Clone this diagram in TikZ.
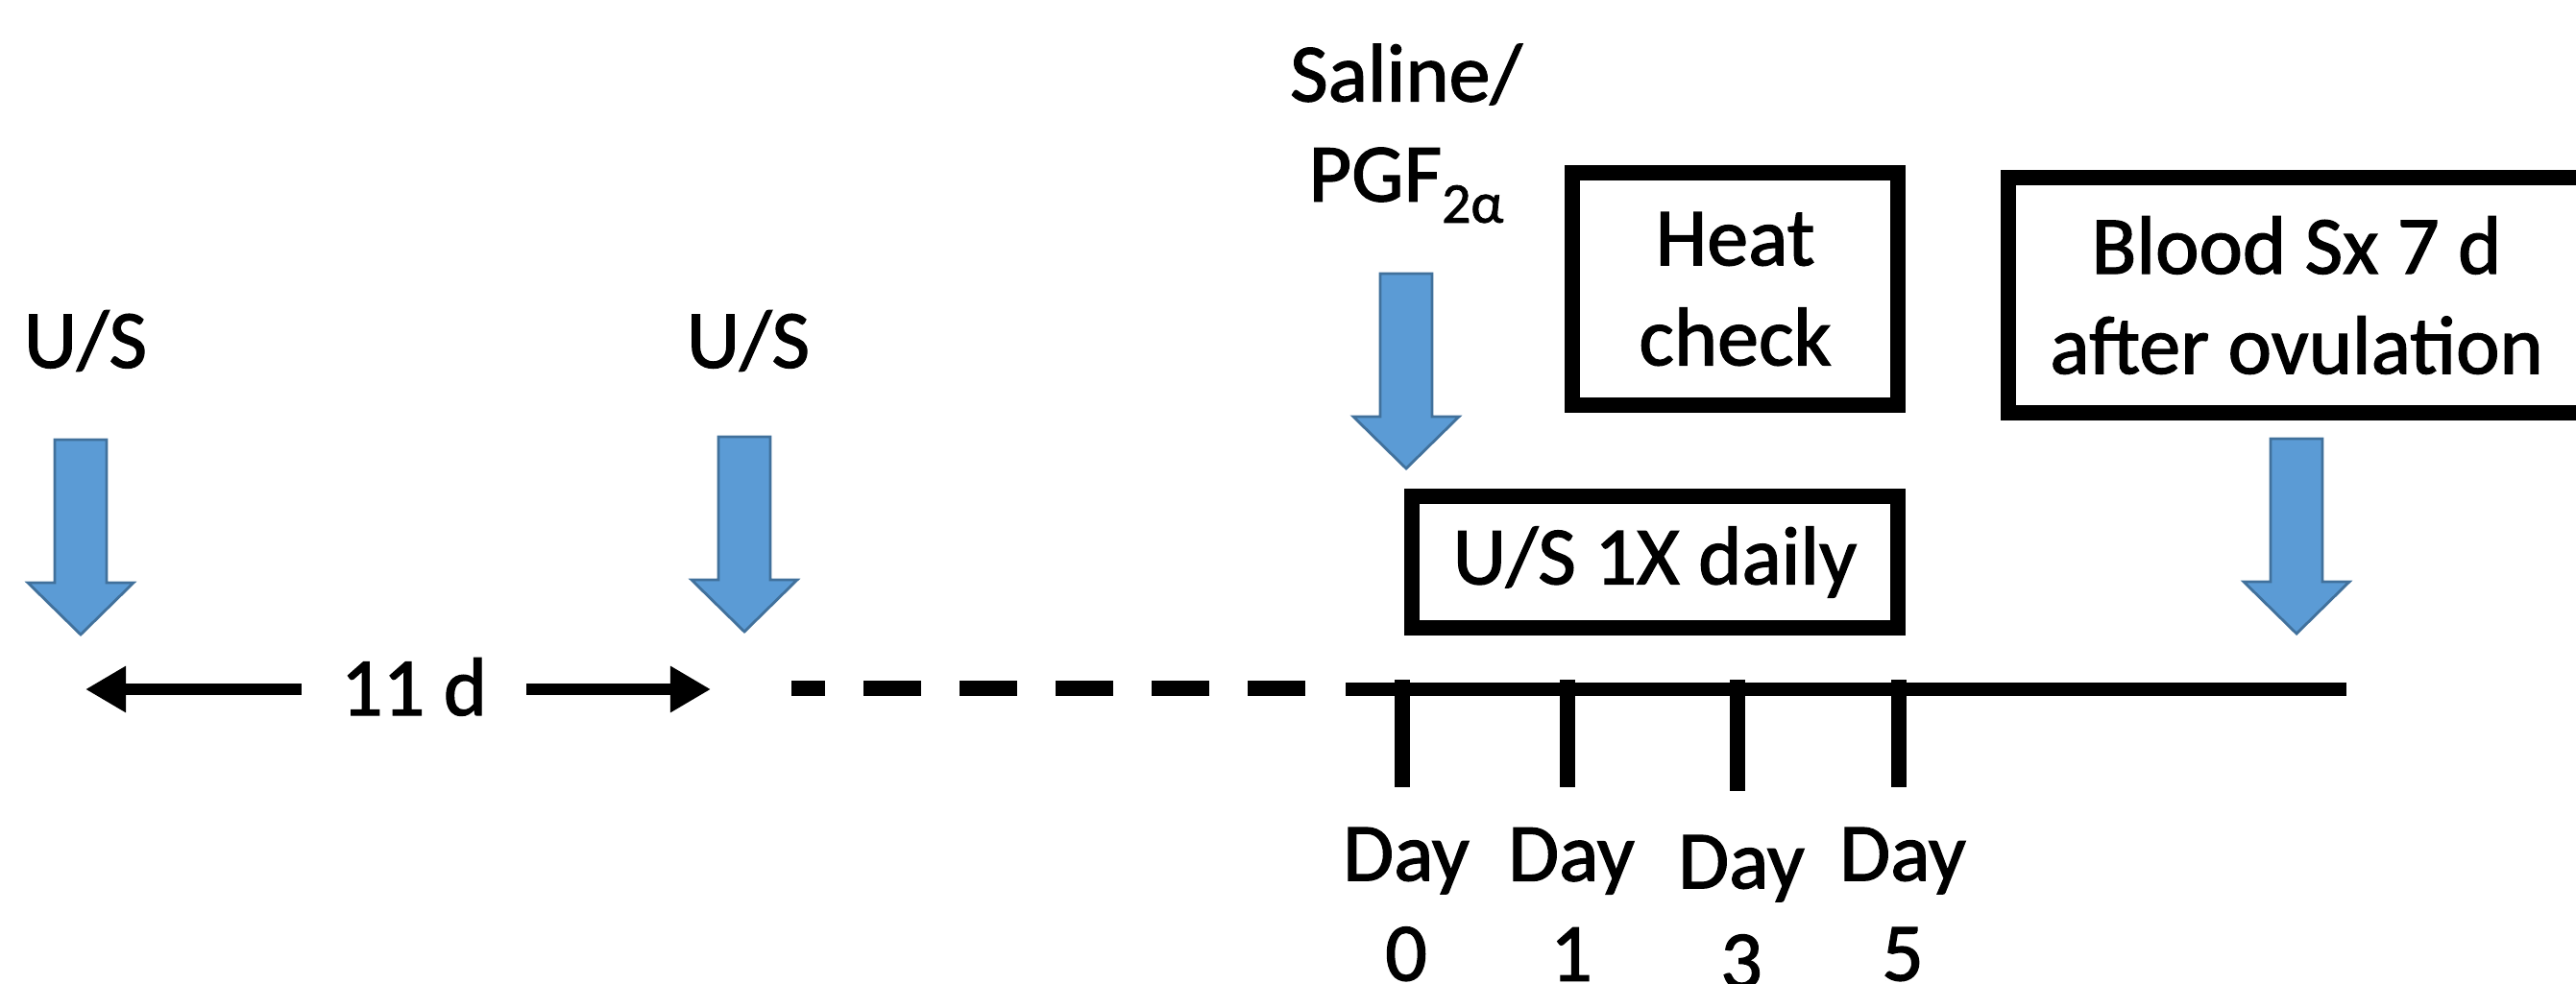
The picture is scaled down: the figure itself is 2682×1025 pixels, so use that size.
\documentclass[tikz,border=0pt]{standalone}
\usepackage{fontspec}
\setmainfont{Carlito}[FakeBold=1.5]
\usepackage{tikz}
\usetikzlibrary{arrows.meta, positioning}
\definecolor{arrowfill}{RGB}{91,155,213}
\definecolor{arrowedge}{RGB}{65,113,156}

\begin{document}
\begin{tikzpicture}[x=0.01cm, y=-0.01cm,
    lbl/.style={font=\fontsize{24.5}{29.6}\selectfont, inner sep=0pt, align=center},
    framebox/.style={lbl, draw, line width=4.6pt},
    dimarrow/.style={-{Triangle[length=12pt,width=13pt]}, line width=3.6pt},
    pics/bluedown/.style={code={
        \filldraw[fill=arrowfill, draw=arrowedge, line width=0.8pt]
            (-27,0) -- (27,0) -- (27,149) -- (55,149) -- (0,203) -- (-55,149) -- (-27,149) -- cycle;
    }}]
    \path[use as bounding box, clip] (0,0) rectangle (2682,1025);

    % first and second U/S
    \node[lbl, anchor=base] (us1) at (89,383) {U/S};
    \pic at (84,458) {bluedown};
    \node[lbl, anchor=base] (us2) at (779,383) {U/S};
    \pic at (775,455) {bluedown};

    % 11 d between them
    \coordinate (dimL) at (89,718);
    \coordinate (dimR) at (740,718);
    \node[lbl, anchor=base, inner xsep=0.4cm] (elevend) at (431,745) {11 d};
    \draw[dimarrow] (elevend.west |- dimL) -- (dimL);
    \draw[dimarrow] (elevend.east |- dimR) -- (dimR);

    % Timeline
    \coordinate (dashstart) at (824,717);
    \coordinate (dashend) at (1362,717);
    \coordinate (linestart) at (1401,718);
    \coordinate (lineend) at (2443,718);
    \draw[line width=4.8pt, dash pattern=on 0.6cm off 0.4cm, dash phase=0.25cm] (dashstart) -- (dashend);
    \draw[line width=3.7pt] (linestart) -- (lineend);
    \foreach \x/\d/\dy [count=\i] in {1460/0/0, 1632/1/0, 1809/3/8, 1977/5/0} {
        \draw[line width=4.6pt] (\x,708) -- (\x,{820+\dy/2});
        \node[lbl] (day\i) at ({\x+4},{942+\dy}) {Day\\\d};
    }

    % Saline / PGF
    \node[lbl] (drug) at (1464,139) {Saline/\\PGF\raisebox{-6.3pt}{\fontsize{17}{17}\selectfont 2α}};
    \pic at (1464,285) {bluedown};

    % Boxes
    \node[framebox, minimum width=3.39cm, minimum height=2.42cm] (heat) at (1806.5,301) {Heat\\check};
    \node[framebox, minimum width=5.06cm, minimum height=1.37cm] (usdaily) at (1723,585.5) {U/S 1X daily};
    \node[framebox, minimum width=6cm, minimum height=2.45cm] (blood) at (2391,307.5) {Blood Sx 7 d\\after ovulation};
    \pic at (2391,457) {bluedown};
\end{tikzpicture}
\end{document}
